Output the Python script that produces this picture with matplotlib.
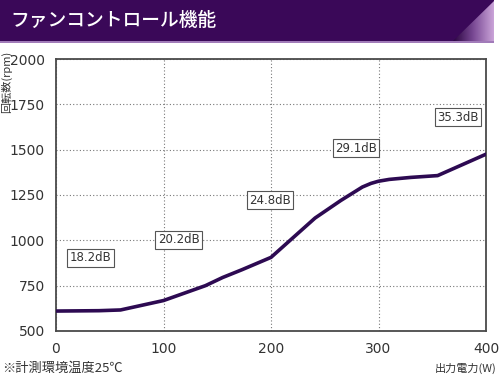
import matplotlib.pyplot as plt
import numpy as np
from matplotlib.patches import Polygon
from matplotlib.colors import LinearSegmentedColormap

plt.rcParams['font.family'] = ['Noto Sans CJK JP', 'DejaVu Sans']

# fan curve (W -> rpm)
watts = [0, 40, 60, 100, 139, 155, 173, 200, 241, 265, 285, 293, 300, 310, 330, 355, 400]
rpm = [610, 612, 616, 668, 750, 795, 838, 906, 1123, 1220, 1294, 1314, 1326, 1336, 1347, 1357, 1475]

# noise level labels
noise_text = ['18.2dB', '20.2dB', '24.8dB', '29.1dB', '35.3dB']
noise_x = [32, 114, 199, 279, 374]
noise_y = [903, 1002, 1222, 1509, 1680]

xticks = [0, 100, 200, 300, 400]
yticks = [500, 750, 1000, 1250, 1500, 1750, 2000]

W, H = 500, 378
fig = plt.figure(figsize=(W / 100, H / 100), dpi=100)

# header band
hdr = fig.add_axes([0, 1 - 43 / H, 1, 43 / H])
hdr.set_xlim(0, W)
hdr.set_ylim(43, 0)
hdr.axis('off')
hdr.add_patch(plt.Rectangle((0, 0), 494, 41, color='#3a0858', lw=0))
hdr.add_patch(plt.Rectangle((0, 40.5), 494, 2.5, color='#a17bb9', lw=0))
grad = np.linspace(0, 1, 64).reshape(1, -1)
cmap = LinearSegmentedColormap.from_list('g', ['#2a0440', '#7a4a95', '#caa3d8'])
im = hdr.imshow(grad, cmap=cmap, extent=[453, 494, 41, 1], aspect='auto', zorder=2)
tri = Polygon([[453, 41], [494, 1], [494, 41]], closed=True, transform=hdr.transData)
im.set_clip_path(tri)
hdr.text(10, 20, 'ファンコントロール機能', color='white', fontsize=13.5,
         va='center', ha='left', weight='medium')

ax = fig.add_axes([56 / W, 1 - 331 / H, 430 / W, 272 / H])
ax.plot(watts, rpm, color='#2d0a52', lw=2.6, solid_capstyle='round', zorder=3)
for t, x, y in zip(noise_text, noise_x, noise_y):
    ax.text(x, y, t, fontsize=8.5, ha='center', va='center', color='#333333', zorder=4,
            family='DejaVu Sans',
            bbox=dict(boxstyle='square,pad=0.2', fc='white', ec='#555555', lw=0.8))

ax.set_xlim(0, 400)
ax.set_ylim(500, 2000)
ax.set_xticks(xticks)
ax.set_yticks(yticks)
ax.tick_params(length=0, labelsize=10, colors='#333333')
ax.tick_params(axis='x', pad=8)
ax.tick_params(axis='y', pad=8)
for lab in ax.get_xticklabels() + ax.get_yticklabels():
    lab.set_family('DejaVu Sans')
ax.grid(True, linestyle=(0, (1, 2)), color='#777777', lw=0.8)
for s in ax.spines.values():
    s.set_color('#4a4a4a')
    s.set_linewidth(1.3)

fig.text(7 / W, 1 - 51 / H, '回転数(rpm)', rotation=90, fontsize=8,
         ha='center', va='top', color='#333333')
fig.text(497 / W, 1 - 368 / H, '出力電力(W)', fontsize=8, ha='right', va='center',
         color='#333333')
fig.text(2 / W, 1 - 368 / H, '※計測環境温度25℃', fontsize=9.5, ha='left', va='center',
         color='#333333')

fig.savefig('out.png', dpi=100)
